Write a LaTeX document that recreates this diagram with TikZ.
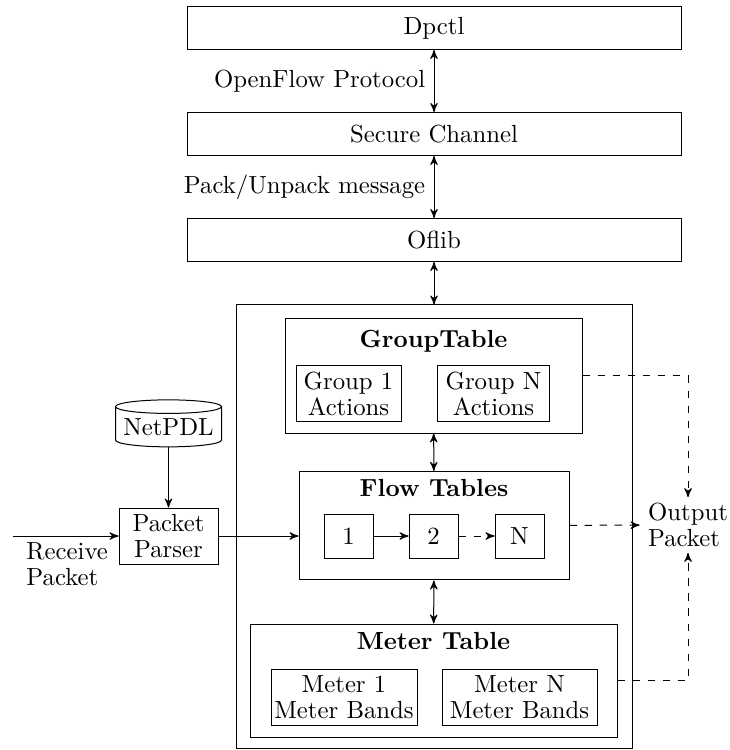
\documentclass[tikz,border=0pt]{standalone}
\usepackage{tikz}
\usetikzlibrary{arrows,calc,shapes.geometric}

\begin{document}
\begin{tikzpicture}[x=0.4pt,y=-0.4pt,>=stealth',
    every node/.style ={font=\fontsize{9.9}{10.4}\selectfont, align=center},
    layer/.style ={rectangle, draw, inner sep = 0pt, minimum width=197.6pt, minimum height=17.2pt},
    table/.style ={rectangle, draw, inner sep = 0pt},
    entry/.style ={rectangle, draw, inner sep = 0pt, minimum height=22.4pt},
    cell/.style ={rectangle, draw, inner sep = 0pt, minimum width=19.6pt, minimum height=17.6pt},
    title/.style ={font=\fontsize{9.9}{10.4}\selectfont\bfseries}]
   \useasboundingbox (0,0) rectangle (729,750);

   \node[layer] (dpctl) at (434,28) {Dpctl};
   \node[layer] (secure) at (434,134) {Secure Channel};
   \node[layer] (oflib) at (434,240) {Oflib};

   \node[table, minimum width=158.4pt, minimum height=177.2pt] (switch) at (434,526.5) {};

   \node[table, minimum width=118.8pt, minimum height=45.6pt] (group) at (433.5,376) {};
   \node[title] (grouptitle) at (433.5,341) {GroupTable};
   \node[entry, minimum width=42pt] (group1) at (348.5,394) {Group 1\\Actions};
   \node[entry, minimum width=45pt] (groupN) at (493.5,394) {Group N\\Actions};

   \node[table, minimum width=108pt, minimum height=43.4pt] (flow) at (434,525.7) {};
   \node[title] (flowtitle) at (434,488) {Flow Tables};
   \node[cell] (cell1) at (348.5,536) {1};
   \node[cell] (cell2) at (433.5,536) {2};
   \node[cell] (cellN) at (519.5,536) {N};

   \node[table, minimum width=146.8pt, minimum height=45.2pt] (meter) at (433.5,680.5) {};
   \node[title] (metertitle) at (433.5,641) {Meter Table};
   \node[entry, minimum width=58.4pt] (meter1) at (344,697) {Meter 1\\Meter Bands};
   \node[entry, minimum width=62pt] (meterN) at (519.5,697) {Meter N\\Meter Bands};

   \node[cylinder, draw, shape border rotate=90, shape aspect=0.15, inner sep = 0pt,
         minimum width=42.4pt, minimum height=18.8pt] (netpdl) at (168.5,427) {NetPDL};
   \node[table, minimum width=39.6pt, minimum height=22.4pt] (parser) at (168.5,536) {Packet\\Parser};

   \coordinate (input) at (13,536);
   \node[align=left, anchor=north west, inner sep=0pt] (receive) at (26,542) {Receive\\Packet};
   \node[align=left, inner xsep=3.2pt, inner ysep=2.2pt] (output) at (688,525) {Output\\Packet};

   \draw[<->] (dpctl) to node[left] {OpenFlow Protocol} (secure);
   \draw[<->] (secure) to node[left] {Pack/Unpack message} (oflib);
   \draw[<->] (oflib) to (switch);
   \draw[<->] (group) to (flow);
   \draw[<->] (flow) to (meter);

   \draw[->] (netpdl) to (parser);
   \draw[->] (input) to (parser);
   \draw[->] (parser) to (parser -| flow.west);
   \draw[->] (cell1) to (cell2);
   \draw[->, dashed] (cell2) to (cellN);

   \draw[->, dashed] (group.east) -| (output);
   \draw[->, dashed] (flow) to (output);
   \draw[->, dashed] (meter.east) -| (output);
 \end{tikzpicture}
\end{document}
